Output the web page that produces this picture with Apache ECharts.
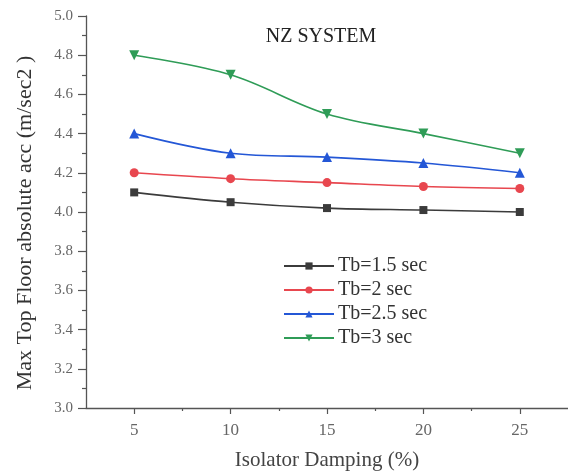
<!DOCTYPE html>
<html>
<head>
<meta charset="utf-8">
<script src="https://cdn.jsdelivr.net/npm/echarts@6/dist/echarts.min.js"></script>
<style>
  html, body { margin: 0; padding: 0; background: #fff; overflow: hidden; }
  #chart { width: 568px; height: 476px; }
</style>
</head>
<body>
<div id="chart"></div>
<script>
// Isolator damping (%) on the x axis
const damping = [5, 10, 15, 20, 25];

// Max top floor absolute acceleration (m/sec2) per isolation period
const tb15 = [4.10, 4.05, 4.02, 4.01, 4.00];
const tb20 = [4.20, 4.17, 4.15, 4.13, 4.12];
const tb25 = [4.40, 4.30, 4.28, 4.25, 4.20];
const tb30 = [4.80, 4.70, 4.50, 4.40, 4.30];

const seriesNames = ['Tb=1.5 sec', 'Tb=2 sec', 'Tb=2.5 sec', 'Tb=3 sec'];
const xMajorTicks = [5, 10, 15, 20, 25];
const xMinorTicks = [7.5, 12.5, 17.5, 22.5];

const serif = '"Liberation Serif", "DejaVu Serif", serif';
const axisGray = '#555';
const labelGray = '#666';

function pairs(values) {
  return damping.map((d, i) => [d, values[i]]);
}

function makeSeries(name, values, color, symbol, size) {
  return {
    name: name,
    type: 'line',
    data: pairs(values),
    smooth: 0.35,
    symbol: symbol,
    symbolSize: size,
    lineStyle: { color: color, width: 1.6 },
    itemStyle: { color: color },
    z: 3
  };
}

const chart = echarts.init(document.getElementById('chart'), null, { renderer: 'canvas' });

chart.setOption({
  animation: false,
  backgroundColor: '#fff',
  title: {
    text: 'NZ SYSTEM',
    left: 321,
    top: 27,
    padding: 0,
    textAlign: 'center',
    textStyle: { fontFamily: serif, fontSize: 20, fontWeight: 'normal', color: '#222' }
  },
  legend: {
    orient: 'vertical',
    left: 283,
    top: 256,
    padding: 0,
    itemWidth: 50,
    itemHeight: 9,
    itemGap: 4,
    data: seriesNames,
    textStyle: { fontFamily: serif, fontSize: 20, color: '#333', padding: [0, 0, 0, -1] }
  },
  grid: { left: 86, top: 16, width: 489, height: 397, containLabel: false },
  xAxis: [
    {
      type: 'value',
      min: 2.5,
      max: 27.5,
      name: 'Isolator Damping (%)',
      nameLocation: 'middle',
      nameGap: 42,
      nameTextStyle: { fontFamily: serif, fontSize: 21, color: '#444' },
      axisLine: { show: true, lineStyle: { color: axisGray, width: 1.3 } },
      axisTick: { show: true, inside: false, length: 6, customValues: xMajorTicks, lineStyle: { color: axisGray, width: 1.2 } },
      axisLabel: { customValues: xMajorTicks, margin: 14, fontFamily: serif, fontSize: 17, color: labelGray },
      splitLine: { show: false }
    },
    {
      type: 'value',
      min: 2.5,
      max: 27.5,
      position: 'bottom',
      axisLine: { show: false },
      axisTick: { show: true, length: 3, customValues: xMinorTicks, lineStyle: { color: axisGray, width: 1.2 } },
      axisLabel: { show: false },
      splitLine: { show: false }
    }
  ],
  yAxis: {
    type: 'value',
    min: 3.0,
    max: 5.0,
    interval: 0.2,
    name: 'Max Top Floor absolute acc (m/sec2 )',
    nameLocation: 'middle',
    nameGap: 50,
    nameTextStyle: { fontFamily: serif, fontSize: 22, color: '#333', padding: [0, 22, 0, 0] },
    axisLine: { show: true, lineStyle: { color: axisGray, width: 1.3 } },
    axisTick: { show: true, length: 8, lineStyle: { color: axisGray, width: 1.2 } },
    minorTick: { show: true, splitNumber: 2, length: 4, lineStyle: { color: axisGray, width: 1.2 } },
    axisLabel: {
      margin: 13,
      fontFamily: serif,
      fontSize: 15,
      color: labelGray,
      formatter: v => v.toFixed(1)
    },
    splitLine: { show: false }
  },
  series: [
    makeSeries(seriesNames[0], tb15, '#3b3b3b', 'rect', 8),
    makeSeries(seriesNames[1], tb20, '#e8474f', 'circle', 9),
    makeSeries(seriesNames[2], tb25, '#2457d6', 'triangle', 10),
    makeSeries(seriesNames[3], tb30, '#2f9c57', 'path://M0,0 L10,0 L5,9 Z', 10)
  ]
});
</script>
</body>
</html>
